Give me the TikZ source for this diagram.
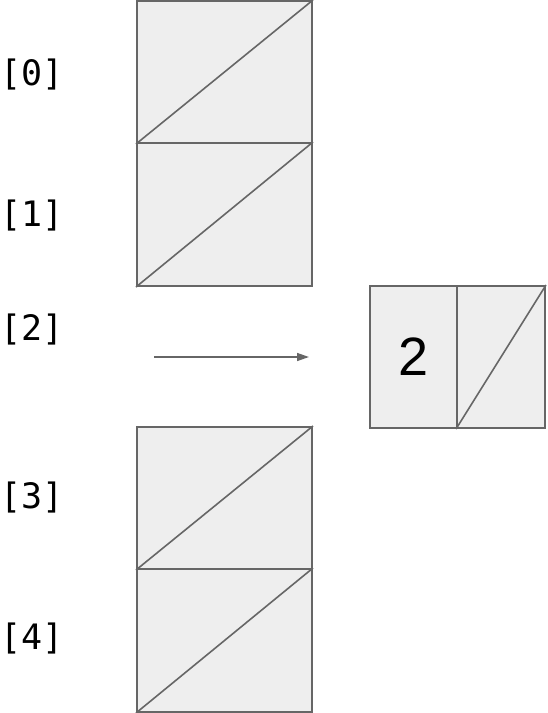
\documentclass[tikz,border=0pt]{standalone}
\usepackage{fontspec}
\setmainfont{Liberation Sans}
\newfontfamily\idxfont{DejaVu Sans Mono}
\usetikzlibrary{arrows.meta}
\definecolor{cellfill}{HTML}{EEEEEE}
\definecolor{cellline}{HTML}{666666}
\tikzset{
  cell/.style={rectangle, draw=cellline, fill=cellfill, line width=2pt, inner sep=0pt},
  idx/.style={font=\idxfont\fontsize{35}{35}\selectfont, inner sep=0pt}
}

\begin{document}
\begin{tikzpicture}[x=1pt, y=-1pt]
    \useasboundingbox (0,0) rectangle (547,713);
    % Index labels
    \node[idx] (l0) at (32,75) {[0]};
    \node[idx] (l1) at (32,216) {[1]};
    \node[idx] (l2) at (32,330) {[2]};
    \node[idx] (l3) at (32,498) {[3]};
    \node[idx] (l4) at (32,639) {[4]};

    % Cells of the two columns
    \node[cell, minimum width=175pt, minimum height=142pt] (c0) at (224.5,72) {};
    \node[cell, minimum width=175pt, minimum height=143pt] (c1) at (224.5,214.5) {};
    \node[cell, minimum width=175pt, minimum height=142pt] (c3) at (224.5,498) {};
    \node[cell, minimum width=175pt, minimum height=143pt] (c4) at (224.5,640.5) {};
    \foreach \c in {c0,c1,c3,c4}
        \draw[cellline, line width=1.6pt] (\c.south west) -- (\c.north east);

    % Entry pointed to by [2]
    \node[cell, minimum width=87pt, minimum height=142pt, font=\fontsize{54}{54}\selectfont] (v2) at (413.5,357) {2};
    \node[cell, minimum width=88pt, minimum height=142pt] (p2) at (501,357) {};
    \draw[cellline, line width=1.6pt] (p2.south west) -- (p2.north east);

    % Arrow
    \coordinate (a0) at (154,357);
    \coordinate (a1) at (309,357);
    \draw[cellline, line width=1.4pt, -{Stealth[length=12pt, width=8pt, inset=0pt]}] (a0) -- (a1);
\end{tikzpicture}
\end{document}
